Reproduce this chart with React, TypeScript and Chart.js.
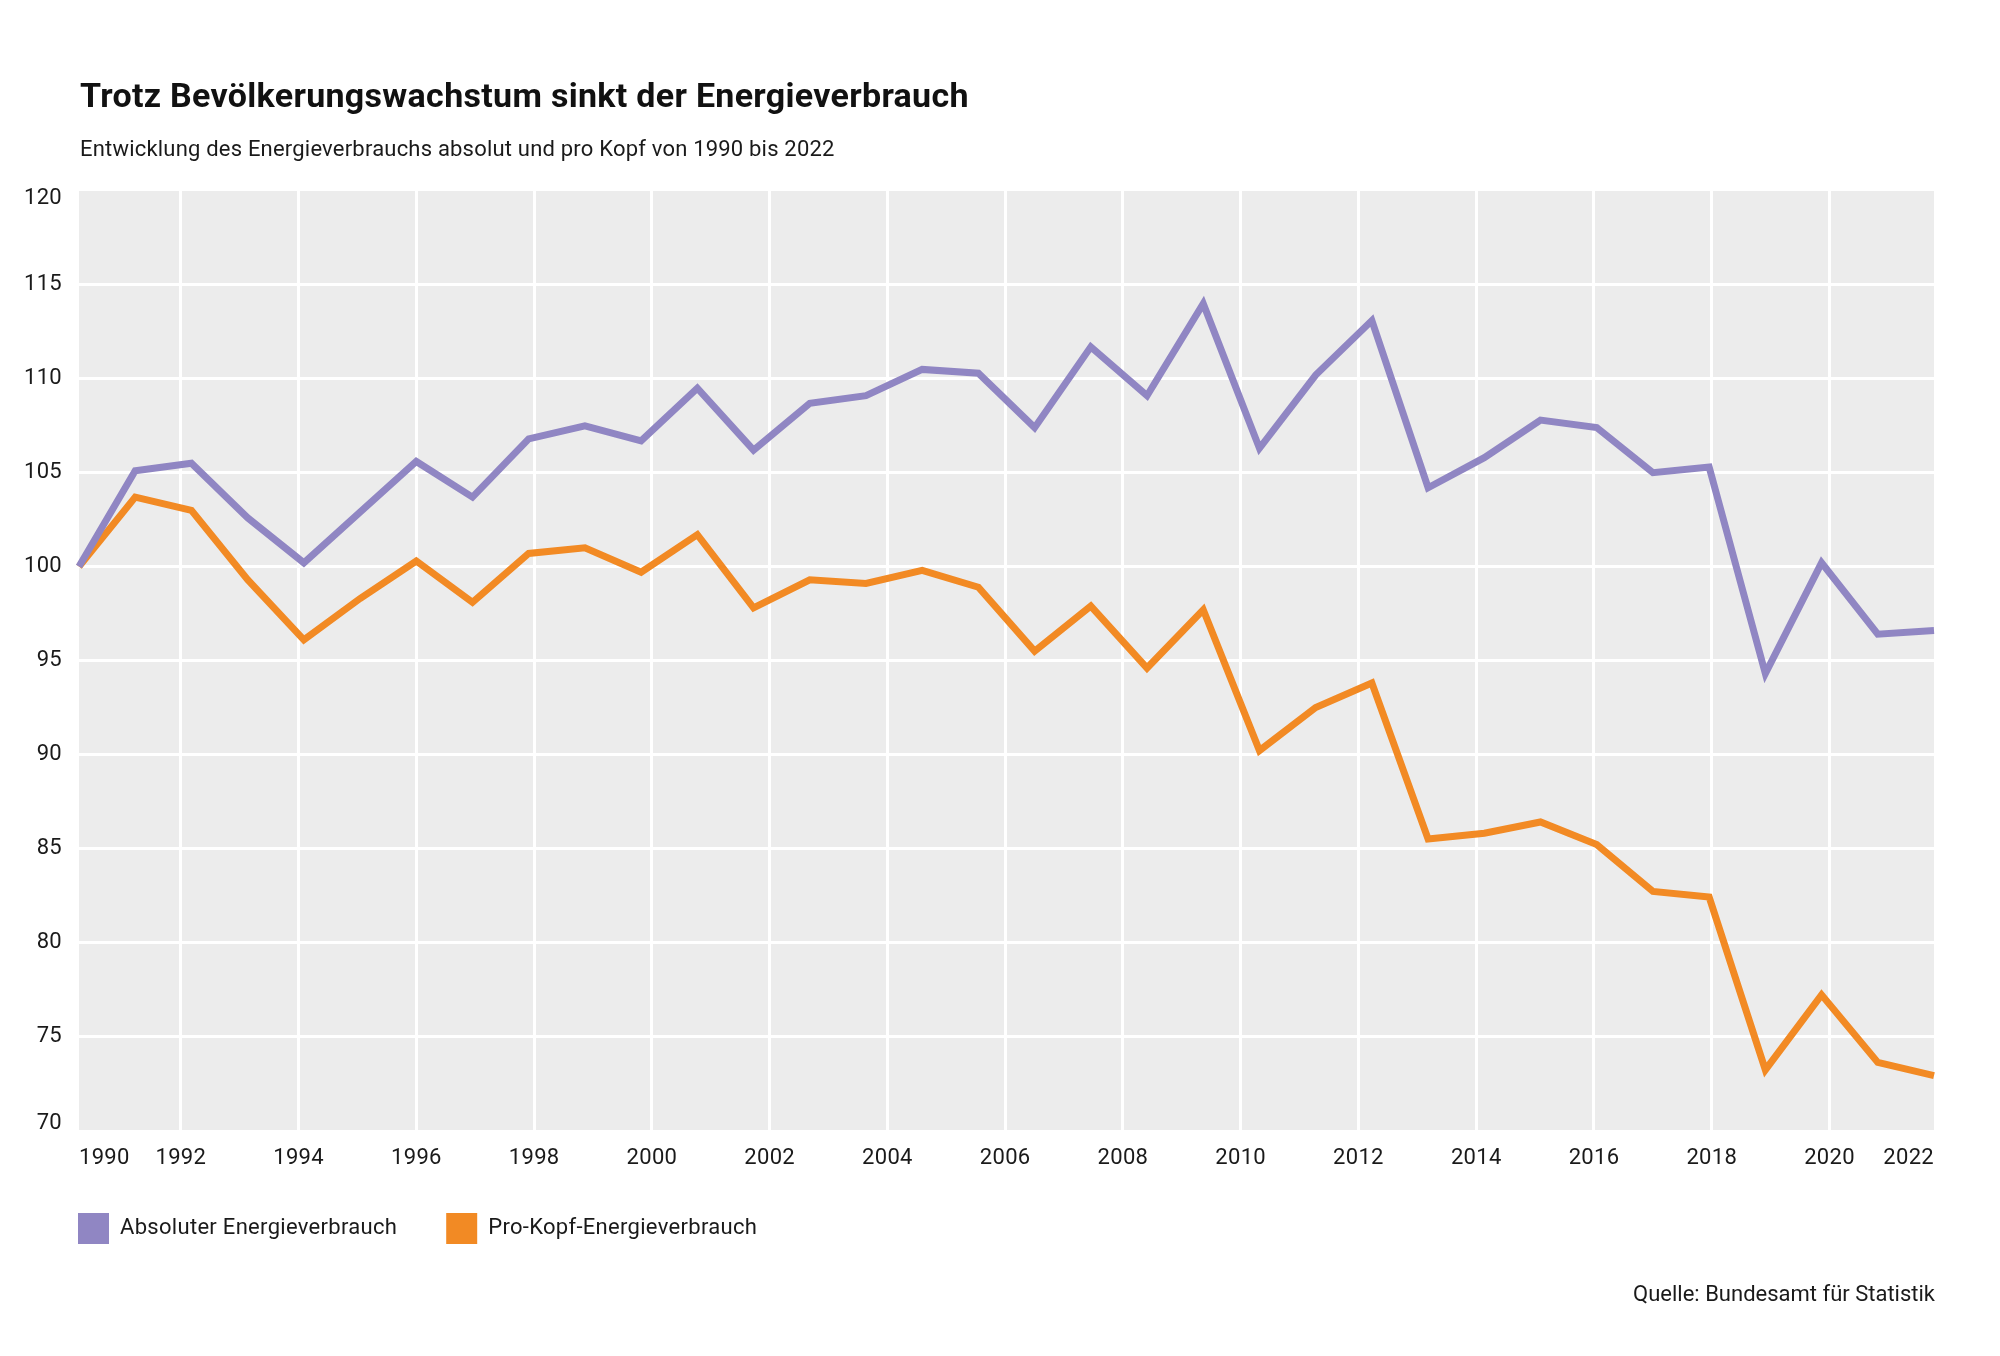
import React, { useEffect, useRef } from 'react';
import { Chart, registerables } from 'chart.js';

Chart.register(...registerables);

// ---- data ----
const YEARS = [
  '1990', '1991', '1992', '1993', '1994', '1995', '1996', '1997', '1998', '1999',
  '2000', '2001', '2002', '2003', '2004', '2005', '2006', '2007', '2008', '2009',
  '2010', '2011', '2012', '2013', '2014', '2015', '2016', '2017', '2018', '2019',
  '2020', '2021', '2022', '2023',
];

const ABSOLUTE = [
  100.0, 105.1, 105.5, 102.6, 100.2, 102.9, 105.6, 103.7, 106.8, 107.5,
  106.7, 109.5, 106.2, 108.7, 109.1, 110.5, 110.3, 107.4, 111.7, 109.1,
  114.0, 106.3, 110.2, 113.1, 104.2, 105.8, 107.8, 107.4, 105.0, 105.3,
  94.3, 100.2, 96.4, 96.6,
];

const PER_CAPITA = [
  100.0, 103.7, 103.0, 99.3, 96.1, 98.3, 100.3, 98.1, 100.7, 101.0,
  99.7, 101.7, 97.8, 99.3, 99.1, 99.8, 98.9, 95.5, 97.9, 94.6,
  97.7, 90.2, 92.5, 93.8, 85.5, 85.8, 86.4, 85.2, 82.7, 82.4,
  73.2, 77.2, 73.6, 72.9,
];

const SERIES_LABELS = ['Absoluter Energieverbrauch', 'Pro-Kopf-Energieverbrauch'];
const SERIES_COLORS = ['#9086c3', '#f28a24'];

const GRID_YEARS = [1992, 1994, 1996, 1998, 2000, 2002, 2004, 2006, 2008, 2010, 2012, 2014, 2016, 2018, 2020];
const EDGE_LABELS = ['1990', '2022'];
const AXIS_START = 1990.27;
const AXIS_END = 2021.775;

const Y_MIN = 70;
const Y_MAX = 120;
const Y_STEP = 5;

const TITLE = 'Trotz Bevölkerungswachstum sinkt der Energieverbrauch';
const SUBTITLE = 'Entwicklung des Energieverbrauchs absolut und pro Kopf von 1990 bis 2022';
const SOURCE = 'Quelle: Bundesamt für Statistik';

const FONT = 'Roboto, "Noto Sans", sans-serif';
const TEXT_COLOR = '#1a1a1a';
const EDGE_LABEL_INSET = 7;

const plotBackground = {
  id: 'plotBackground',
  beforeUpdate(chart: any) {
    try { chart.ctx.letterSpacing = '0.3px'; } catch (e) { /* ignore */ }
  },
  afterLayout(chart: any) {
    try {
      const y = chart.scales.y;
      y.left = 0; // let the y labels extend into the outer margin without being clipped
      const items = y.getLabelItems(chart.chartArea);
      if (items && items.length > 1) {
        items[0].options.translation[1] -= EDGE_LABEL_INSET;
        items[items.length - 1].options.translation[1] += EDGE_LABEL_INSET;
      }
    } catch (e) { /* ignore */ }
  },
  beforeDraw(chart: any) {
    const { ctx, chartArea } = chart;
    try { ctx.letterSpacing = '0.3px'; } catch (e) { /* ignore */ }
    if (!chartArea) return;
    ctx.save();
    ctx.fillStyle = '#ececec';
    ctx.fillRect(chartArea.left, chartArea.top, chartArea.right - chartArea.left, chartArea.bottom - chartArea.top);
    ctx.restore();
  },
};

export default function App() {
  const canvasRef = useRef<HTMLCanvasElement | null>(null);

  useEffect(() => {
    document.body.style.margin = '0';
    const canvas = canvasRef.current;
    if (!canvas) return;
    const chart = new Chart(canvas, {
      type: 'line',
      data: {
        labels: YEARS,
        datasets: [
          {
            label: SERIES_LABELS[0],
            data: ABSOLUTE,
            borderColor: SERIES_COLORS[0],
            backgroundColor: SERIES_COLORS[0],
            borderWidth: 7,
            pointRadius: 0,
            tension: 0,
            borderJoinStyle: 'miter',
            borderCapStyle: 'butt',
            fill: false,
          },
          {
            label: SERIES_LABELS[1],
            data: PER_CAPITA,
            borderColor: SERIES_COLORS[1],
            backgroundColor: SERIES_COLORS[1],
            borderWidth: 7,
            pointRadius: 0,
            tension: 0,
            borderJoinStyle: 'miter',
            borderCapStyle: 'butt',
            fill: false,
          },
        ],
      },
      options: {
        animation: false,
        responsive: false,
        devicePixelRatio: 1,
        layout: { padding: { top: 191, left: 29, right: 66, bottom: 102 } },
        scales: {
          x: { type: 'category', display: false, offset: false },
          xGrid: {
            type: 'linear',
            position: 'bottom',
            min: AXIS_START,
            max: AXIS_END,
            afterBuildTicks: (s: any) => {
              s.ticks = [AXIS_START, ...GRID_YEARS, AXIS_END].map((v) => ({ value: v }));
            },
            afterFit: (s: any) => {
              s.height = 34;
              s.paddingLeft = 0;
              s.paddingRight = 0;
            },
            grid: {
              color: (c: any) => (c.tick && GRID_YEARS.includes(c.tick.value) ? '#ffffff' : 'rgba(0,0,0,0)'),
              lineWidth: 3,
              drawTicks: false,
            },
            border: { display: false },
            ticks: {
              autoSkip: false,
              maxRotation: 0,
              minRotation: 0,
              align: 'inner',
              padding: 15,
              color: TEXT_COLOR,
              font: { family: FONT, size: 22 },
              callback: (v: any) => (v === AXIS_START ? EDGE_LABELS[0] : v === AXIS_END ? EDGE_LABELS[1] : String(v)),
            },
          },
          y: {
            min: Y_MIN,
            max: Y_MAX,
            afterFit: (s: any) => {
              s.width = 50;
            },
            grid: {
              color: (c: any) => (c.tick && (c.tick.value === Y_MIN || c.tick.value === Y_MAX) ? 'rgba(0,0,0,0)' : '#ffffff'),
              lineWidth: 3,
              drawTicks: false,
            },
            border: { display: false },
            ticks: {
              stepSize: Y_STEP,
              padding: 17,
              color: TEXT_COLOR,
              font: { family: FONT, size: 22 },
            },
          },
        },
        plugins: {
          title: { display: false },
          tooltip: { enabled: false },
          legend: {
            display: true,
            position: 'bottom',
            align: 'start',
            labels: {
              boxWidth: 31,
              boxHeight: 31,
              padding: 49,
              color: TEXT_COLOR,
              font: { family: FONT, size: 22 },
              generateLabels: (ch: any) =>
                ch.data.datasets.map((ds: any, i: number) => ({
                  text: ds.label,
                  fillStyle: ds.borderColor,
                  strokeStyle: ds.borderColor,
                  lineWidth: 0,
                  hidden: false,
                  datasetIndex: i,
                  fontColor: TEXT_COLOR,
                })),
            },
          },
        },
      } as any,
      plugins: [plotBackground],
    });
    return () => chart.destroy();
  }, []);

  return (
    <div style={{ position: 'absolute', left: 0, top: 0, width: 2000, height: 1356, background: '#fff', overflow: 'hidden' }}>
      <canvas ref={canvasRef} width={2000} height={1356} style={{ position: 'absolute', left: 0, top: 0, width: 2000, height: 1356 }} />
      <div
        style={{
          position: 'absolute', left: 80, top: 78, fontFamily: FONT, fontWeight: 700, fontSize: 34,
          lineHeight: '34px', color: '#111', whiteSpace: 'nowrap', letterSpacing: '0.3px',
        }}
      >
        {TITLE}
      </div>
      <div
        style={{
          position: 'absolute', left: 80, top: 138, fontFamily: FONT, fontSize: 22, lineHeight: '22px',
          color: TEXT_COLOR, whiteSpace: 'nowrap', letterSpacing: '0.2px',
        }}
      >
        {SUBTITLE}
      </div>
      <div
        style={{
          position: 'absolute', right: 65, top: 1283, fontFamily: FONT, fontSize: 22, lineHeight: '22px',
          color: TEXT_COLOR, whiteSpace: 'nowrap',
        }}
      >
        {SOURCE}
      </div>
    </div>
  );
}
